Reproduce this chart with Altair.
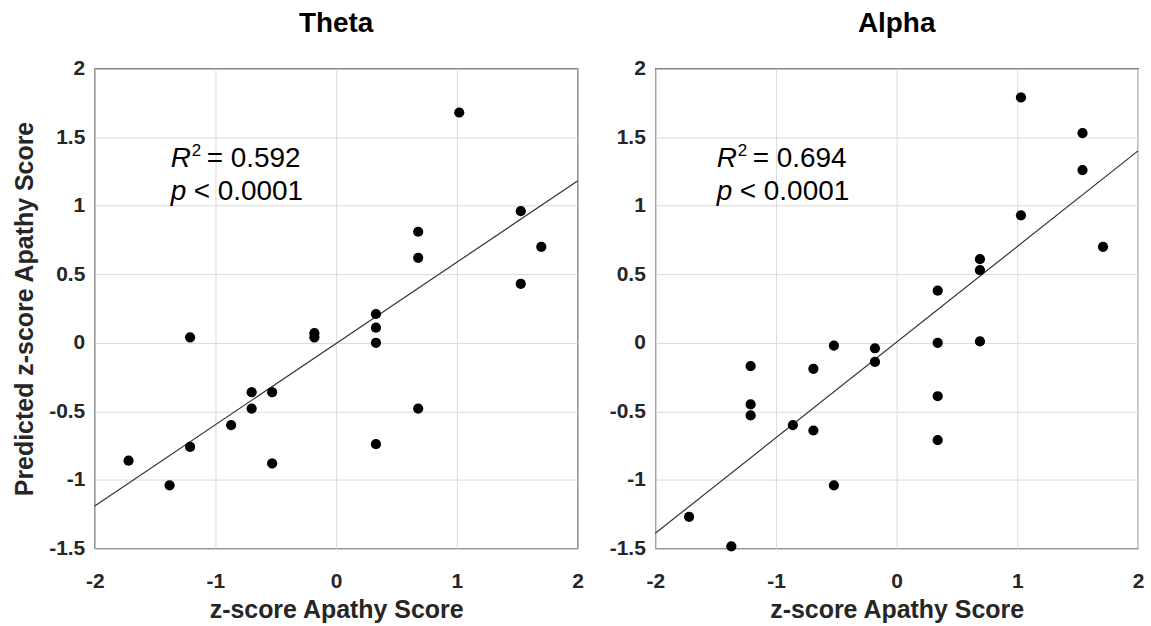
import altair as alt
import pandas as pd

# ---- data ----
theta_x = [-1.72, -1.38, -1.21, -1.21, -0.87, -0.70, -0.70, -0.53, -0.53, -0.18, -0.18,
           0.33, 0.33, 0.33, 0.33, 0.68, 0.68, 0.68, 1.02, 1.53, 1.53, 1.70]
theta_y = [-0.86, -1.04, 0.04, -0.76, -0.60, -0.36, -0.48, -0.36, -0.88, 0.07, 0.04,
           0.21, 0.11, 0.00, -0.74, 0.81, 0.62, -0.48, 1.68, 0.96, 0.43, 0.70]

alpha_x = [-1.72, -1.37, -1.21, -1.21, -1.21, -0.86, -0.69, -0.69, -0.52, -0.52, -0.18, -0.18,
           0.34, 0.34, 0.34, 0.34, 0.69, 0.69, 0.69, 1.03, 1.03, 1.54, 1.54, 1.71]
alpha_y = [-1.27, -1.485, -0.17, -0.45, -0.53, -0.60, -0.19, -0.64, -0.02, -1.04, -0.04, -0.14,
           0.38, 0.00, -0.39, -0.71, 0.61, 0.53, 0.01, 1.79, 0.93, 1.53, 1.26, 0.70]

fit_x = [-2, 2]
theta_fit_y = [-1.19, 1.18]
alpha_fit_y = [-1.39, 1.40]

x_ticks = [-2, -1, 0, 1, 2]
y_ticks = [-1.5, -1, -0.5, 0, 0.5, 1, 1.5, 2]

panel_titles = ["Theta", "Alpha"]
r2_texts = ["= 0.592", "= 0.694"]
p_text = "< 0.0001"
ann_x = [-1.37, -1.49]
ann_y = [1.28, 1.045]

x_title = "z-score Apathy Score"
y_title = "Predicted z-score Apathy Score"

FONT = "Liberation Sans"
INK = "#262626"


def panel(i, xs, ys, fy, show_ytitle):
    pts = pd.DataFrame({"x": xs, "y": ys})
    fit = pd.DataFrame({"x": fit_x, "y": fy})
    ann1 = pd.DataFrame({"x": [ann_x[i]], "y": [ann_y[0]]})
    ann2 = pd.DataFrame({"x": [ann_x[i]], "y": [ann_y[1]]})

    xs_ = alt.Scale(domain=[-2, 2], nice=False, zero=False)
    ys_ = alt.Scale(domain=[-1.5, 2], nice=False, zero=False)
    xaxis = alt.Axis(title=x_title, values=x_ticks, labelExpr="toString(datum.value)",
                     grid=True, gridColor="#dadada", ticks=False, domain=False,
                     labelFont=FONT, labelFontSize=21, labelFontWeight="bold", labelColor=INK,
                     labelPadding=22, titleFont=FONT, titleFontSize=25, titleFontWeight="bold",
                     titleColor=INK, titlePadding=6, labelFlush=False)
    yaxis = alt.Axis(title=y_title if show_ytitle else "", values=y_ticks,
                     labelExpr="toString(datum.value)",
                     grid=True, gridColor="#dadada", ticks=False, domain=False,
                     labelFont=FONT, labelFontSize=21, labelFontWeight="bold", labelColor=INK,
                     labelPadding=10, titleFont=FONT, titleFontSize=25, titleFontWeight="bold",
                     titleColor=INK, titlePadding=11, labelFlush=False)

    base_pts = alt.Chart(pts).mark_circle(size=105, color="black", opacity=1).encode(
        x=alt.X("x:Q", scale=xs_, axis=xaxis),
        y=alt.Y("y:Q", scale=ys_, axis=yaxis),
    )
    line = alt.Chart(fit).mark_line(color="#333333", strokeWidth=1.2).encode(
        x=alt.X("x:Q", scale=xs_), y=alt.Y("y:Q", scale=ys_))

    def txt(df, text, dx=0, dy=0, size=28, style="normal"):
        return alt.Chart(df).mark_text(text=text, align="left", baseline="alphabetic",
                                       font=FONT, fontSize=size, fontStyle=style,
                                       color="black", dx=dx, dy=dy).encode(
            x=alt.X("x:Q", scale=xs_), y=alt.Y("y:Q", scale=ys_))

    texts = [
        txt(ann1, "R", style="italic"),
        txt(ann1, "2", dx=21, dy=-11, size=17),
        txt(ann1, r2_texts[i], dx=36),
        txt(ann2, "p", style="italic"),
        txt(ann2, p_text, dx=23),
    ]
    return alt.layer(line, base_pts, *texts).properties(
        width=484, height=481,
        title=alt.TitleParams(panel_titles[i], font=FONT, fontSize=28, fontWeight="bold",
                              color="black", offset=20, anchor="middle"))


left = panel(0, theta_x, theta_y, theta_fit_y, True)
right = panel(1, alpha_x, alpha_y, alpha_fit_y, False)

chart = alt.hconcat(left, right, spacing=24).properties(
    padding={"left": 12, "top": 8, "right": 6, "bottom": 2},
    background="white",
).configure_view(stroke="#222222", strokeWidth=1.2)

chart.save("out.html", embed_options={"renderer": "svg", "actions": False})
